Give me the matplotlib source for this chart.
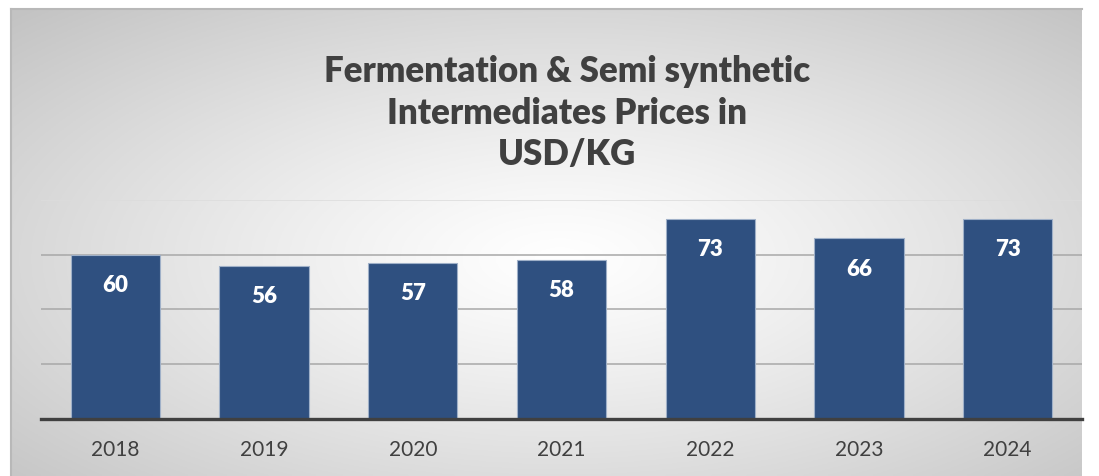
import numpy as np
import matplotlib
matplotlib.use("Agg")
import matplotlib.pyplot as plt

years = ["2018", "2019", "2020", "2021", "2022", "2023", "2024"]
prices = [60, 56, 57, 58, 73, 66, 73]
title_lines = ["Fermentation & Semi synthetic", "Intermediates Prices in", "USD/KG"]

W, H = 1099, 477
fig = plt.figure(figsize=(W / 100, H / 100), dpi=100)
fig.patch.set_facecolor("white")
plt.rcParams['font.family'] = ['Lato', 'DejaVu Sans']

# background frame with radial gradient
fx0, fx1, fy0, fy1 = 11, 1082, 10, 477
bg = fig.add_axes([fx0 / W, 0, (fx1 - fx0) / W, (fy1 - fy0) / H], zorder=0)
nx, ny = 400, 200
xs = np.linspace(fx0, fx1, nx)
ys = np.linspace(fy0, fy1, ny)
X, Y = np.meshgrid(xs, ys)
cx, cy = 560, 260
r = np.sqrt(((X - cx) / 535) ** 2 + ((Y - cy) / 240) ** 2)
g = 255 - 60 * np.clip(r / 1.45, 0, 1) ** 1.2
img = np.dstack([g, g, g]) / 255.0
bg.imshow(img, extent=[0, 1, 0, 1], aspect="auto", origin="upper")
bg.set_xlim(0, 1); bg.set_ylim(0, 1)
bg.axis("off")
bg.plot([0, 1], [1, 1], color="#b8b8b8", lw=1.5, transform=bg.transAxes, clip_on=False)
bg.plot([0, 0], [0, 1], color="#b8b8b8", lw=1.5, transform=bg.transAxes, clip_on=False)

# main plot axes
left, right = 41 / W, 1082 / W
bottom, top = 1 - 419.5 / H, 1 - 201 / H
ax = fig.add_axes([left, bottom, right - left, top - bottom], zorder=1)
ax.set_facecolor("none")
x = np.arange(len(years))
bars = ax.bar(x, prices, width=0.6, color="#2F5080", edgecolor="#9FB0C8", linewidth=0.8, zorder=3)
ax.set_xlim(-0.5, len(years) - 0.5)
ax.set_ylim(0, 80)
for v in [20, 40, 60]:
    ax.axhline(v, color="#a8a8a8", lw=1.1, zorder=1)
ax.axhline(80, color="#dcdcdc", lw=1.1, zorder=1)
for s in ["top", "right", "left"]:
    ax.spines[s].set_visible(False)
ax.spines["bottom"].set_color("#404040")
ax.spines["bottom"].set_linewidth(2.4)
ax.spines["bottom"].set_zorder(4)
ax.set_yticks([])
ax.set_xticks(x)
ax.set_xticklabels(years, fontsize=15, color="#404040")
ax.tick_params(axis="x", length=0, pad=15)

for xi, v in zip(x, prices):
    ax.annotate(str(v), xy=(xi, v), xytext=(0, -21.5), textcoords="offset points",
                ha="center", va="center", color="white", fontsize=16, fontweight="heavy", zorder=5)

fig.text(567 / W, 1 - 113 / H, "\n".join(title_lines), ha="center", va="center",
         multialignment="center", fontsize=25, fontweight="heavy", color="#404040",
         linespacing=1.3, zorder=5)

fig.savefig("out.png", dpi=100)
